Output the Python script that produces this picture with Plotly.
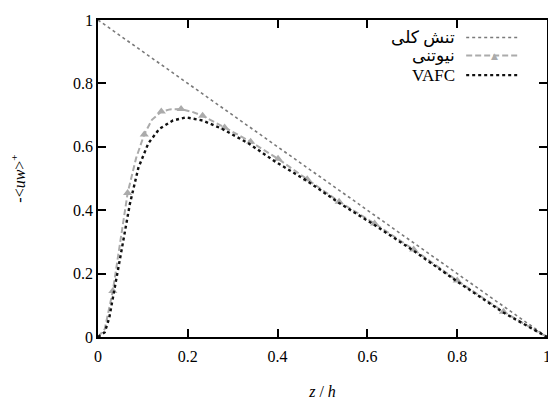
import plotly.graph_objects as go

# ---- data ----
total_x = [0.0, 1.0]
total_y = [1.0, 0.0]

newt_line_x = [0.0, 0.015, 0.033, 0.05, 0.066, 0.085, 0.103, 0.12, 0.141, 0.16, 0.185,
               0.21, 0.233, 0.282, 0.340, 0.401, 0.466, 0.537, 0.616, 0.703, 0.800, 0.903, 1.0]
newt_line_y = [0.0, 0.025, 0.145, 0.31, 0.454, 0.565, 0.639, 0.685, 0.711, 0.718, 0.719,
               0.71, 0.698, 0.661, 0.616, 0.562, 0.498, 0.427, 0.358, 0.276, 0.178, 0.080, 0.0]

newt_mark_x = [0.033, 0.066, 0.103, 0.141, 0.185, 0.233, 0.282, 0.340, 0.401,
               0.466, 0.537, 0.616, 0.703, 0.800, 0.903]
newt_mark_y = [0.145, 0.454, 0.639, 0.711, 0.719, 0.698, 0.661, 0.616, 0.562,
               0.498, 0.427, 0.358, 0.276, 0.178, 0.080]

vafc_x = [0.0, 0.015, 0.025, 0.035, 0.053, 0.071, 0.090, 0.112, 0.137, 0.167, 0.196,
          0.233, 0.276, 0.335, 0.394, 0.466, 0.537, 0.616, 0.703, 0.800, 0.903, 1.0]
vafc_y = [0.0, 0.015, 0.06, 0.134, 0.278, 0.42, 0.534, 0.611, 0.657, 0.683, 0.693,
          0.683, 0.657, 0.611, 0.554, 0.492, 0.423, 0.353, 0.272, 0.175, 0.077, 0.0]

x_ticks = [0, 0.2, 0.4, 0.6, 0.8, 1]
x_tick_labels = ["0", "0.2", "0.4", "0.6", "0.8", "1"]
y_ticks = [0, 0.2, 0.4, 0.6, 0.8, 1]
y_tick_labels = ["0", "0.2", "0.4", "0.6", "0.8", "1"]

legend_names = ["تنش کلی", "نیوتنی", "VAFC"]

FONT = "Liberation Serif, Times New Roman, serif"
C_TOTAL = "#7a7a7a"
C_NEWT = "#ababab"
C_VAFC = "#111111"

fig = go.Figure()
fig.add_trace(go.Scatter(x=total_x, y=total_y, mode="lines", name=legend_names[0],
                         line=dict(color=C_TOTAL, width=1.6, dash="dot"), showlegend=False))
fig.add_trace(go.Scatter(x=newt_line_x, y=newt_line_y, mode="lines", name=legend_names[1],
                         line=dict(color=C_NEWT, width=2, dash="6px,3px"), showlegend=False))
fig.add_trace(go.Scatter(x=newt_mark_x, y=newt_mark_y, mode="markers", name=legend_names[1],
                         marker=dict(symbol="triangle-up", size=8, color=C_NEWT), showlegend=False))
fig.add_trace(go.Scatter(x=vafc_x, y=vafc_y, mode="lines", name=legend_names[2],
                         line=dict(color=C_VAFC, width=2.4, dash="dot"), showlegend=False))

# ---- custom legend (text right-aligned, sample after text) ----
rows = [0.945, 0.888, 0.826]
styles = [dict(color=C_TOTAL, width=1.6, dash="dot"),
          dict(color=C_NEWT, width=2, dash="6px,3px"),
          dict(color=C_VAFC, width=2.4, dash="dot")]
shapes = []
annotations = []
for name, ry, st in zip(legend_names, rows, styles):
    annotations.append(dict(xref="paper", yref="paper", x=0.80, y=ry, text=name,
                            showarrow=False, xanchor="right", yanchor="middle",
                            font=dict(family="Liberation Serif, DejaVu Sans", size=17, color="black")))
    shapes.append(dict(type="line", xref="paper", yref="paper", x0=0.82, x1=0.94,
                       y0=ry, y1=ry, line=st))
annotations.append(dict(xref="paper", yref="paper", x=0.882, y=rows[1], text="▲",
                        showarrow=False, xanchor="center", yanchor="middle",
                        font=dict(family="DejaVu Sans", size=9, color=C_NEWT)))

axis_common = dict(showline=True, linecolor="black", linewidth=1.5, mirror="ticks",
                   ticks="inside", ticklen=8, tickwidth=1.5, tickcolor="black",
                   showgrid=False, zeroline=False, ticklabeloverflow="allow",
                   tickfont=dict(family=FONT, size=16, color="black"))

fig.update_layout(
    width=556, height=400,
    font=dict(family=FONT, size=16, color="black"),
    margin=dict(l=89, r=17, t=4, b=71),
    paper_bgcolor="white", plot_bgcolor="white",
    xaxis=dict(range=[0, 1], tickvals=x_ticks, ticktext=x_tick_labels, ticklabelstandoff=4,
               title=dict(text="<i>z</i> / <i>h</i>", font=dict(family=FONT, size=16, color="black"),
                          standoff=22),
               **axis_common),
    yaxis=dict(range=[0, 1], tickvals=y_ticks, ticktext=y_tick_labels,
               title=dict(text="-&lt;<i>uw</i>&gt;<sup>+</sup>", font=dict(family=FONT, size=16, color="black"),
                          standoff=50),
               **axis_common),
    shapes=shapes,
    annotations=annotations,
    showlegend=False,
)

fig.write_html("out.html")
